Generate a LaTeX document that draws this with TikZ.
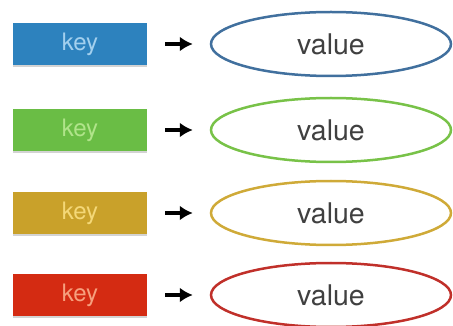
\documentclass[tikz,border=0pt]{standalone}
\usepackage{fontspec}
\setmainfont{TeX Gyre Heros}
\usetikzlibrary{arrows.meta,shadows,shapes.geometric}
\definecolor{bluebox}{HTML}{2D82BE}
\definecolor{bluetxt}{HTML}{A3D0EE}
\definecolor{blueell}{HTML}{41709E}
\definecolor{greenbox}{HTML}{6ABD45}
\definecolor{greentxt}{HTML}{B0E48A}
\definecolor{greenell}{HTML}{78C248}
\definecolor{goldbox}{HTML}{C9A12A}
\definecolor{goldtxt}{HTML}{F4D878}
\definecolor{goldell}{HTML}{CFAA38}
\definecolor{redbox}{HTML}{D42B12}
\definecolor{redtxt}{HTML}{F6A07E}
\definecolor{redell}{HTML}{C0302A}
\tikzset{
  keybox/.style={rectangle, minimum width=134pt, minimum height=42pt, inner sep=0pt,
    drop shadow={shadow xshift=0pt, shadow yshift=-2pt, opacity=0.35},
    font=\fontsize{24}{24}\selectfont},
  valell/.style={ellipse, minimum width=240pt, minimum height=64pt, inner sep=0pt, line width=2.5pt,
    font=\fontsize{28.5}{28.5}\selectfont, text=black!75},
  conn/.style={-{Latex[length=13pt,width=15pt]}, line width=4pt, black}
}
\begin{document}
\begin{tikzpicture}[x=1pt,y=-1pt]
\useasboundingbox (0,0) rectangle (453,326);
\foreach \n/\y/\c in {1/44/blue,2/130/green,3/213/gold,4/295/red}{
  \node[keybox, fill=\c box, text=\c txt] (k\n) at (80,\y) {key};
  \node[valell, draw=\c ell] (v\n) at (331,\y) {value};
  \draw[conn] ([xshift=18pt]k\n.east) -- ([xshift=-17pt]v\n.west);
}
\end{tikzpicture}
\end{document}
